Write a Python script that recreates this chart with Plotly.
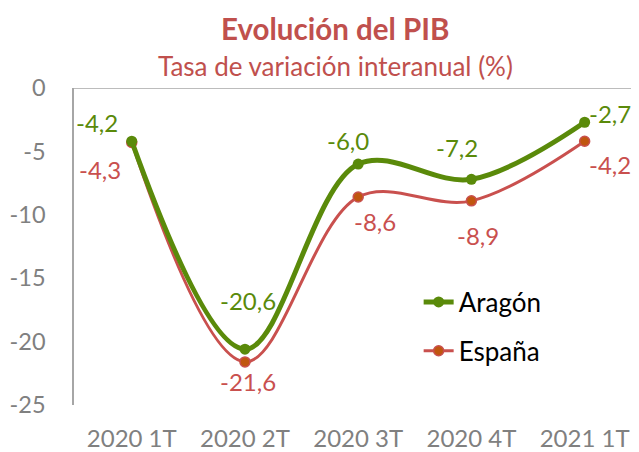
import plotly.graph_objects as go

categories = ["2020 1T", "2020 2T", "2020 3T", "2020 4T", "2021 1T"]
aragon = [-4.2, -20.6, -6.0, -7.2, -2.7]
espana = [-4.3, -21.6, -8.6, -8.9, -4.2]
y_ticks = [0, -5, -10, -15, -20, -25]

GREEN = "#5A8A0A"
RED = "#C9504E"
MARK_RED = "#C0560F"
GRAY = "#808080"
FONT = "Lato, 'Open Sans', sans-serif"

x = list(range(len(categories)))

def fmt(v):
    return f"{v:.1f}".replace(".", ",")

fig = go.Figure()
fig.add_trace(go.Scatter(
    x=x, y=espana, name="España", mode="lines+markers",
    line=dict(color=RED, width=3, shape="spline", smoothing=1.0),
    marker=dict(size=10, color=MARK_RED, line=dict(color=RED, width=1.5)),
    legendgroup="e", legendrank=2,
))
fig.add_trace(go.Scatter(
    x=x, y=aragon, name="Aragón", mode="lines+markers",
    line=dict(color=GREEN, width=5, shape="spline", smoothing=1.0),
    marker=dict(size=11, color=GREEN),
    legendgroup="a", legendrank=1,
))

a_shift = [(-35, 19), (3, 49), (-10, 24), (-14, 32), (25, 9)]
e_shift = [(-32, -27), (3, -20), (17, -24), (7, -35), (25, -23)]
for i, v in enumerate(aragon):
    fig.add_annotation(x=x[i], y=v, text=fmt(v), showarrow=False,
                       xshift=a_shift[i][0], yshift=a_shift[i][1],
                       font=dict(family=FONT, size=24, color=GREEN))
for i, v in enumerate(espana):
    fig.add_annotation(x=x[i], y=v, text=fmt(v), showarrow=False,
                       xshift=e_shift[i][0], yshift=e_shift[i][1],
                       font=dict(family=FONT, size=24, color=RED))

fig.add_annotation(x=0.462, y=1.0, xref="paper", yref="paper", yanchor="middle",
                   yshift=60, text="<b>Evolución del PIB</b>", showarrow=False,
                   font=dict(family=FONT, size=29.5, color="#C0504D"))
fig.add_annotation(x=0.462, y=1.0, xref="paper", yref="paper", yanchor="middle",
                   yshift=22, text="Tasa de variación interanual (%)", showarrow=False,
                   font=dict(family=FONT, size=26, color="#C0504D"))

fig.add_shape(type="line", xref="paper", yref="y", x0=0, x1=1, y0=0, y1=0,
              line=dict(color="#A6A6A6", width=1.5))

fig.update_layout(
    width=631, height=444,
    margin=dict(l=66, r=0, t=80, b=47),
    paper_bgcolor="white", plot_bgcolor="white",
    font=dict(family=FONT, color=GRAY),
    showlegend=True,
    legend=dict(x=0.61, y=0.399, xanchor="left", yanchor="top",
                font=dict(family=FONT, size=26, color="#000000"),
                bgcolor="rgba(0,0,0,0)", tracegroupgap=12,
                traceorder="grouped"),
)
fig.update_xaxes(range=[-0.51, 4.48], tickvals=x, ticktext=categories,
                 showgrid=False, zeroline=False, showline=False, ticks="",
                 tickfont=dict(family=FONT, size=24, color=GRAY), ticklabelstandoff=17)
fig.update_yaxes(range=[-25, 0], tickvals=y_ticks, ticktext=[str(t) for t in y_ticks],
                 showgrid=False, zeroline=False, showline=True, linecolor="#A6A6A6",
                 linewidth=1.5, ticks="", ticklabelstandoff=22,
                 tickfont=dict(family=FONT, size=23.5, color=GRAY))

fig.write_html("out.html")
